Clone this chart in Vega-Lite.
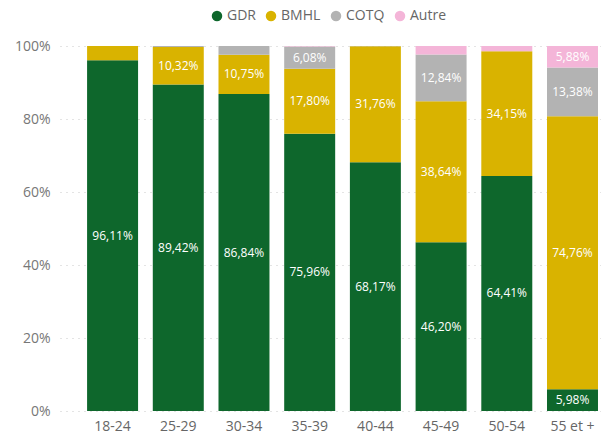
{
  "$schema": "https://vega.github.io/schema/vega-lite/v6.json",
  "autosize": {"type": "none"},
  "width": 541,
  "height": 365,
  "padding": {"left": 60, "top": 46, "right": 0, "bottom": 23},
  "background": "white",
  "config": {
    "font": "Open Sans",
    "view": {"stroke": null},
    "locale": {"number": {"decimal": ",", "thousands": " ", "grouping": [3], "currency": ["", " €"]}}
  },
  "data": {
    "values": [
      {"age": "18-24", "serie": "GDR", "rang": 1, "v": 0.9611},
      {"age": "18-24", "serie": "BMHL", "rang": 2, "v": 0.0389},
      {"age": "18-24", "serie": "COTQ", "rang": 3, "v": 0},
      {"age": "18-24", "serie": "Autre", "rang": 4, "v": 0},
      {"age": "25-29", "serie": "GDR", "rang": 1, "v": 0.8942},
      {"age": "25-29", "serie": "BMHL", "rang": 2, "v": 0.1032},
      {"age": "25-29", "serie": "COTQ", "rang": 3, "v": 0.0026},
      {"age": "25-29", "serie": "Autre", "rang": 4, "v": 0},
      {"age": "30-34", "serie": "GDR", "rang": 1, "v": 0.8684},
      {"age": "30-34", "serie": "BMHL", "rang": 2, "v": 0.1075},
      {"age": "30-34", "serie": "COTQ", "rang": 3, "v": 0.0241},
      {"age": "30-34", "serie": "Autre", "rang": 4, "v": 0},
      {"age": "35-39", "serie": "GDR", "rang": 1, "v": 0.7596},
      {"age": "35-39", "serie": "BMHL", "rang": 2, "v": 0.1780},
      {"age": "35-39", "serie": "COTQ", "rang": 3, "v": 0.0608},
      {"age": "35-39", "serie": "Autre", "rang": 4, "v": 0.0016},
      {"age": "40-44", "serie": "GDR", "rang": 1, "v": 0.6817},
      {"age": "40-44", "serie": "BMHL", "rang": 2, "v": 0.3176},
      {"age": "40-44", "serie": "COTQ", "rang": 3, "v": 0.0007},
      {"age": "40-44", "serie": "Autre", "rang": 4, "v": 0},
      {"age": "45-49", "serie": "GDR", "rang": 1, "v": 0.4620},
      {"age": "45-49", "serie": "BMHL", "rang": 2, "v": 0.3864},
      {"age": "45-49", "serie": "COTQ", "rang": 3, "v": 0.1284},
      {"age": "45-49", "serie": "Autre", "rang": 4, "v": 0.0232},
      {"age": "50-54", "serie": "GDR", "rang": 1, "v": 0.6441},
      {"age": "50-54", "serie": "BMHL", "rang": 2, "v": 0.3415},
      {"age": "50-54", "serie": "COTQ", "rang": 3, "v": 0},
      {"age": "50-54", "serie": "Autre", "rang": 4, "v": 0.0144},
      {"age": "55 et +", "serie": "GDR", "rang": 1, "v": 0.0598},
      {"age": "55 et +", "serie": "BMHL", "rang": 2, "v": 0.7476},
      {"age": "55 et +", "serie": "COTQ", "rang": 3, "v": 0.1338},
      {"age": "55 et +", "serie": "Autre", "rang": 4, "v": 0.0588}
    ]
  },
  "transform": [
    {"stack": "v", "groupby": ["age"], "sort": [{"field": "rang", "order": "ascending"}], "as": ["y0", "y1"]},
    {"calculate": "(datum.y0 + datum.y1) / 2", "as": "ymid"}
  ],
  "encoding": {
    "x": {
      "field": "age", "type": "nominal", "sort": null, "title": null,
      "scale": {"paddingInner": 0.224, "paddingOuter": 0.229, "align": 0.9},
      "axis": {"labelAngle": 0, "domain": false, "ticks": false, "labelFontSize": 14, "labelColor": "#666666", "labelPadding": 8}
    }
  },
  "layer": [
    {
      "mark": {"type": "bar"},
      "encoding": {
        "y": {
          "field": "y0", "type": "quantitative", "title": null,
          "scale": {"domain": [0, 1], "nice": false},
          "axis": {"format": ".0%", "values": [0, 0.2, 0.4, 0.6, 0.8, 1], "domain": false, "ticks": false, "labelFontSize": 14, "labelColor": "#777777", "labelPadding": 10, "gridColor": "#c8c8c8", "gridDash": [1, 5], "gridWidth": 1}
        },
        "y2": {"field": "y1"},
        "color": {
          "field": "serie", "type": "nominal", "title": null,
          "scale": {"domain": ["GDR", "BMHL", "COTQ", "Autre"], "range": ["#0E672C", "#D9B300", "#B3B3B3", "#F4B5D8"]},
          "legend": {
            "orient": "none", "legendX": 150, "legendY": -37, "direction": "horizontal",
            "columns": 4, "symbolType": "circle", "symbolSize": 110, "symbolStrokeWidth": 0,
            "labelFontSize": 14, "labelColor": "#666666", "labelOffset": 3, "columnPadding": 8, "padding": 0
          }
        }
      }
    },
    {
      "transform": [{"filter": "datum.v >= 0.05"}],
      "mark": {"type": "text", "color": "white", "fontSize": 12, "baseline": "middle", "align": "center"},
      "encoding": {
        "y": {"field": "ymid", "type": "quantitative"},
        "text": {"field": "v", "type": "quantitative", "format": ".2%"}
      }
    }
  ]
}
